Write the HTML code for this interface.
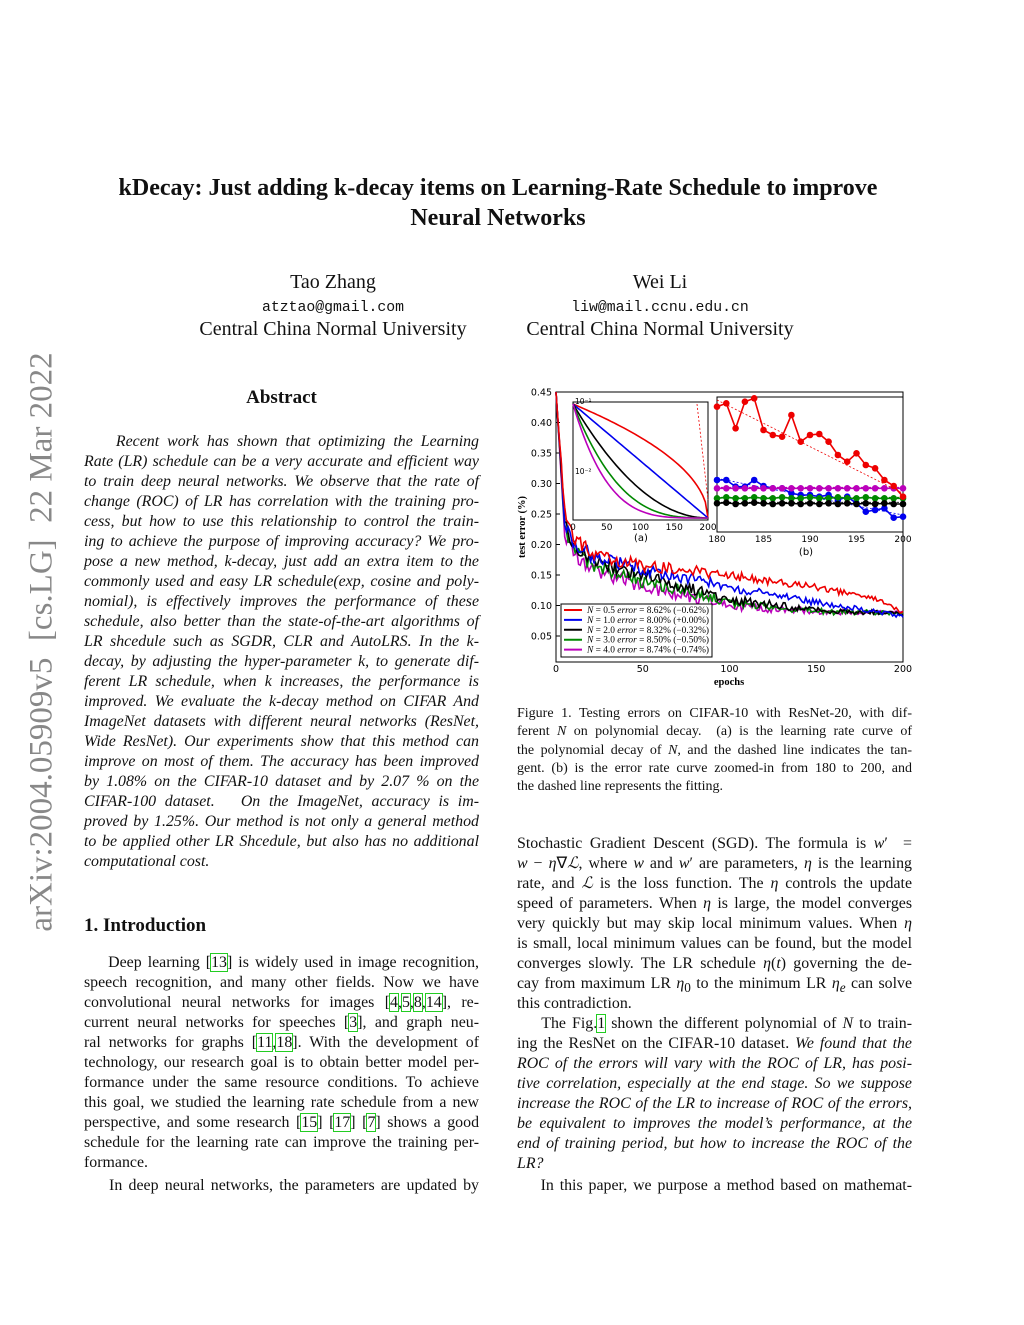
<!DOCTYPE html>
<html><head><meta charset="utf-8">
<style>
body{margin:0;background:#fff;}
#p{position:relative;width:1024px;height:1325px;overflow:hidden;font-family:"Liberation Serif",serif;color:#111;}
.l{position:absolute;font-size:15.9px;line-height:20px;height:20px;white-space:nowrap;}
.j{text-align:justify;text-align-last:justify;white-space:normal;}
.L{left:84px;width:395px}
.R{left:517px;width:395px}
.it{font-style:italic}
.c{position:absolute;text-align:center;white-space:nowrap}
.cap{font-size:14px;line-height:18px;height:18px}
a{color:#111;text-decoration:none;outline:1px solid #2c2;}
</style></head><body><div id="p">
<div class="c" style="left:0;width:996px;top:173px;font-size:24px;font-weight:bold;line-height:30px">kDecay: Just adding k-decay items on Learning-Rate Schedule to improve<br>Neural Networks</div>
<div class="c" style="left:200px;width:266px;top:271px;font-size:20px">Tao Zhang</div>
<div class="c" style="left:200px;width:266px;top:300px;font-size:14.8px;font-family:'Liberation Mono',monospace">atztao@gmail.com</div>
<div class="c" style="left:180px;width:306px;top:318px;font-size:20px">Central China Normal University</div>
<div class="c" style="left:527px;width:266px;top:271px;font-size:20px">Wei Li</div>
<div class="c" style="left:527px;width:266px;top:300px;font-size:14.8px;font-family:'Liberation Mono',monospace">liw@mail.ccnu.edu.cn</div>
<div class="c" style="left:507px;width:306px;top:318px;font-size:20px">Central China Normal University</div>
<div style="position:absolute;left:42px;top:642px;transform:translate(-50%,-50%) rotate(-90deg);font-size:33px;color:#888;white-space:nowrap">arXiv:2004.05909v5&nbsp; [cs.LG]&nbsp; 22 Mar 2022</div>
<div class="c" style="left:84px;width:395px;top:387px;font-size:19px;font-weight:bold">Abstract</div>
<div class="l" style="left:84px;top:916px;font-size:19px;font-weight:bold">1. Introduction</div>
<div id="txt"></div>
<svg id="fig" width="1024" height="700" style="position:absolute;left:0;top:0" font-family="DejaVu Sans, sans-serif"></svg>
</div>
<script>
function lines(arr,cls,y0,dy,extra){let h='';arr.forEach((s,i)=>{let last=s.endsWith('|');if(last)s=s.slice(0,-1);h+=`<div class="l ${cls} ${last?'':'j'} ${extra||''}" style="top:${y0+i*dy-9}px">${s}</div>`;});return h;}
const abs=["&nbsp;&nbsp;&nbsp;&nbsp;Recent work has shown that optimizing the Learning","Rate (LR) schedule can be a very accurate and efficient way","to train deep neural networks. We observe that the rate of","change (ROC) of LR has correlation with the training pro-","cess, but how to use this relationship to control the train-","ing to achieve the purpose of improving accuracy? We pro-","pose a new method, k-decay, just add an extra item to the","commonly used and easy LR schedule(exp, cosine and poly-","nomial), is effectively improves the performance of these","schedule, also better than the state-of-the-art algorithms of","LR shcedule such as SGDR, CLR and AutoLRS. In the k-","decay, by adjusting the hyper-parameter k, to generate dif-","ferent LR schedule, when k increases, the performance is","improved. We evaluate the k-decay method on CIFAR And","ImageNet datasets with different neural networks (ResNet,","Wide ResNet). Our experiments show that this method can","improve on most of them. The accuracy has been improved","by 1.08% on the CIFAR-10 dataset and by 2.07 % on the","CIFAR-100 dataset. &nbsp;&nbsp;On the ImageNet, accuracy is im-","proved by 1.25%. Our method is not only a general method","to be applied other LR Shcedule, but also has no additional","computational cost.|"];
let h=lines(abs,'L it',441,20);
const intro=["&nbsp;&nbsp;&nbsp;&nbsp;Deep learning [<a>13</a>] is widely used in image recognition,","speech recognition, and many other fields. Now we have","convolutional neural networks for images [<a>4</a>,<a>5</a>,<a>8</a>,<a>14</a>], re-","current neural networks for speeches [<a>3</a>], and graph neu-","ral networks for graphs [<a>11</a>,<a>18</a>]. With the development of","technology, our research goal is to obtain better model per-","formance under the same resource conditions. To achieve","this goal, we studied the learning rate schedule from a new","perspective, and some research [<a>15</a>] [<a>17</a>] [<a>7</a>] shows a good","schedule for the learning rate can improve the training per-","formance.|"];
h+=lines(intro,'L',962,20);
h+=lines(["&nbsp;&nbsp;&nbsp;&nbsp;In deep neural networks, the parameters are updated by"],'L',1185,20);
const cap=["Figure 1. Testing errors on CIFAR-10 with ResNet-20, with dif-","ferent <i>N</i> on polynomial decay. &nbsp;(a) is the learning rate curve of","the polynomial decay of <i>N</i>, and the dashed line indicates the tan-","gent. (b) is the error rate curve zoomed-in from 180 to 200, and","the dashed line represents the fitting.|"];
h+=lines(cap,'R cap',714,18.3);
const r1=["Stochastic Gradient Descent (SGD). The formula is <i>w</i>′ &nbsp;=","<i>w</i> − <i>η</i>∇<i>ℒ</i>, where <i>w</i> and <i>w</i>′ are parameters, <i>η</i> is the learning","rate, and <i>ℒ</i> is the loss function. The <i>η</i> controls the update","speed of parameters. When <i>η</i> is large, the model converges","very quickly but may skip local minimum values. When <i>η</i>","is small, local minimum values can be found, but the model","converges slowly. The LR schedule <i>η</i>(<i>t</i>) governing the de-","cay from maximum LR <i>η</i><sub>0</sub> to the minimum LR <i>η<sub>e</sub></i> can solve","this contradiction.|"];
h+=lines(r1,'R',843,20);
const r2=["&nbsp;&nbsp;&nbsp;&nbsp;The Fig.<a>1</a> shown the different polynomial of <i>N</i> to train-","ing the ResNet on the CIFAR-10 dataset. <i>We found that the</i>","<i>ROC of the errors will vary with the ROC of LR, has posi-</i>","<i>tive correlation, especially at the end stage. So we suppose</i>","<i>increase the ROC of the LR to increase of ROC of the errors,</i>","<i>be equivalent to improves the model’s performance, at the</i>","<i>end of training period, but how to increase the ROC of the</i>","<i>LR?</i>|"];
h+=lines(r2,'R',1023,20);
h+=lines(["&nbsp;&nbsp;&nbsp;&nbsp;In this paper, we purpose a method based on mathemat-"],'R',1185,20);
document.getElementById('txt').innerHTML=h;

let s=1;function rnd(){s=(s*16807)%2147483647;return s/2147483647-0.5;}
const X=t=>556+t*347/200, Y=v=>392+(0.45-v)/0.05*30.5;
const C=['#e00','#00e','#000','#080','#b0b'];
const K=[[[0,.45],[5,.25],[10,.21],[25,.18],[50,.165],[100,.15],[150,.13],[185,.11],[200,.088]],
[[0,.45],[5,.24],[10,.20],[25,.175],[50,.16],[100,.13],[150,.105],[185,.09],[200,.082]],
[[0,.45],[5,.24],[10,.2],[25,.17],[50,.15],[100,.11],[150,.092],[200,.087]],
[[0,.45],[5,.23],[10,.19],[25,.16],[50,.14],[100,.105],[150,.09],[200,.088]],
[[0,.45],[5,.22],[10,.185],[25,.155],[50,.13],[100,.10],[150,.09],[200,.088]]];
function interp(k,t){for(let i=1;i<k.length;i++)if(t<=k[i][0]){let a=k[i-1],b=k[i];return a[1]+(b[1]-a[1])*(t-a[0])/(b[0]-a[0]);}return k[k.length-1][1];}
let g='';
g+=`<rect x="556" y="392" width="347" height="270" fill="none" stroke="#000" stroke-width="1"/>`;
[.45,.40,.35,.30,.25,.20,.15,.10,.05].forEach(v=>{g+=`<text x="552" y="${Y(v)+3.5}" font-size="9.5" text-anchor="end">${v.toFixed(2)}</text><line x1="556" x2="560" y1="${Y(v)}" y2="${Y(v)}" stroke="#000"/>`;});
[0,50,100,150,200].forEach(t=>g+=`<text x="${X(t)}" y="672" font-size="9.5" text-anchor="middle">${t}</text>`);
g+=`<text x="729" y="685" font-size="10.5" font-weight="bold" text-anchor="middle" font-family="Liberation Serif,serif">epochs</text>`;
g+=`<text transform="translate(525,527) rotate(-90)" font-size="10.5" font-weight="bold" text-anchor="middle" font-family="Liberation Serif,serif">test error (%)</text>`;
for(let i=4;i>=0;i--){let d='';for(let t=0;t<=200;t++){let v=interp(K[i],t)+rnd()*(0.006+0.02*(1-t/200))*(t<3?0:1);d+=(t?'L':'M')+X(t).toFixed(1)+','+Y(Math.min(v,.45)).toFixed(1);}g+=`<path d="${d}" fill="none" stroke="${C[i]}" stroke-width="1.6"/>`;}
g+=`<rect x="573" y="402" width="135" height="118" fill="#fff" stroke="#000"/>`;
const N=[.5,1,2,3,4];
for(let i=0;i<5;i++){let d='';for(let t=0;t<=200;t+=4){let v=Math.pow(1-t/200,N[i]);d+=(t?'L':'M')+(573+t*135/200).toFixed(1)+','+(404+(1-v)*114).toFixed(1);}g+=`<path d="${d}" fill="none" stroke="${C[i]}" stroke-width="1.6"/>`;}
g+=`<line x1="697" y1="404" x2="708" y2="500" stroke="#e00" stroke-dasharray="2,2" stroke-width="0.8"/>`;
g+=`<text x="575" y="404" font-size="7.5">10⁻¹</text><text x="575" y="474" font-size="7.5">10⁻²</text>`;
[0,50,100,150,200].forEach(t=>g+=`<text x="${573+t*135/200}" y="530" font-size="9" text-anchor="middle">${t}</text>`);
g+=`<text x="641" y="541" font-size="10" text-anchor="middle">(a)</text>`;
g+=`<rect x="717" y="397" width="186" height="135" fill="#fff" stroke="#000"/>`;
[180,185,190,195,200].forEach(t=>g+=`<text x="${717+(t-180)*186/20}" y="542" font-size="9" text-anchor="middle">${t}</text>`);
g+=`<text x="806" y="555" font-size="10" text-anchor="middle">(b)</text>`;
const z=a=>a.map(v=>380+v/3);
const B=[z([80,70,145,65,55,150,165,170,105,185,165,162,185,225,245,220,255,265,300,318,350]),
z([300,300,320,320,300,318,325,325,340,345,345,350,345,360,350,370,395,390,385,413,410]),
z([370,368,372,370,368,370,372,370,370,372,370,372,370,372,370,372,370,372,370,372,372]),
z([355,352,355,355,352,355,355,352,355,355,352,355,355,352,355,355,352,355,355,355,355]),
z([325,325,325,325,325,325,325,325,325,325,325,325,325,325,325,325,325,325,325,325,325])];
[[z([60])[0],z([340])[0]],[z([295])[0],z([405])[0]],[z([367])[0],z([367])[0]],[z([352])[0],z([352])[0]],[z([322])[0],z([322])[0]]].forEach((f,i)=>g+=`<line x1="717" y1="${f[0]}" x2="903" y2="${f[1]}" stroke="${C[i]}" stroke-dasharray="2,2" stroke-width="0.8"/>`);
[1,4,3,2,0].forEach(i=>{let d='',c='';B[i].forEach((v,k)=>{let x=717+k*186/20;d+=(k?'L':'M')+x.toFixed(1)+','+v.toFixed(1);c+=`<circle cx="${x.toFixed(1)}" cy="${v.toFixed(1)}" r="3.3" fill="${C[i]}"/>`;});g+=`<path d="${d}" fill="none" stroke="${C[i]}" stroke-width="1.6"/>`+c;});
g+=`<rect x="561" y="604" width="151" height="53" fill="#fff" stroke="#000"/>`;
const lg=['0.5','8.62','−0.62','1.0','8.00','+0.00','2.0','8.32','−0.32','3.0','8.50','−0.50','4.0','8.74','−0.74'];
for(let i=0;i<5;i++){let y=610+i*9.9;g+=`<line x1="564" x2="582" y1="${y}" y2="${y}" stroke="${C[i]}" stroke-width="2"/><text x="587" y="${y+3}" font-size="9" textLength="122" lengthAdjust="spacingAndGlyphs" font-family="Liberation Serif,serif"><tspan font-style="italic">N</tspan> = ${lg[i*3]} <tspan font-style="italic">error</tspan> = ${lg[i*3+1]}% (${lg[i*3+2]}%)</text>`;}
document.getElementById('fig').innerHTML=g;
</script>
</body></html>
